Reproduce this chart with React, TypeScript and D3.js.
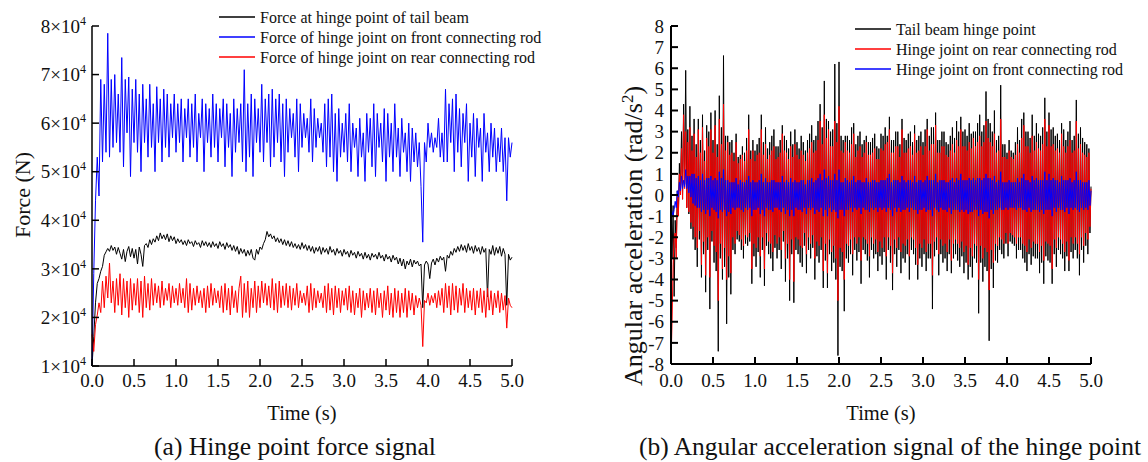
import React from "react";
import * as d3 from "d3";

// ---------- (a) Hinge point force, values in units of 10^4 N, sampled every 1/48 s ----------
const forceStep = 5 / 240;
const tailBeamForce = [
  1.00, 1.60, 2.30, 2.70, 2.80, 2.95, 3.05, 3.28, 3.35, 3.42, 3.36, 3.48, 3.38, 3.45, 3.30, 3.44, 3.32, 3.20, 3.40, 3.15,
  3.36, 3.46, 3.25, 3.42, 3.22, 3.40, 3.10, 3.45, 3.30, 3.05, 3.48, 3.52, 3.44, 3.60, 3.50, 3.62, 3.55, 3.68, 3.58, 3.74,
  3.62, 3.70, 3.60, 3.72, 3.56, 3.68, 3.58, 3.66, 3.52, 3.62, 3.54, 3.60, 3.50, 3.58, 3.48, 3.60, 3.52, 3.56, 3.46, 3.58,
  3.50, 3.54, 3.44, 3.58, 3.48, 3.56, 3.46, 3.54, 3.44, 3.56, 3.46, 3.52, 3.42, 3.56, 3.46, 3.52, 3.40, 3.54, 3.44, 3.50,
  3.38, 3.48, 3.36, 3.46, 3.30, 3.42, 3.32, 3.40, 3.26, 3.38, 3.28, 3.40, 3.22, 3.18, 3.40, 3.30, 3.45, 3.40, 3.52, 3.60,
  3.77, 3.66, 3.72, 3.62, 3.68, 3.56, 3.64, 3.54, 3.62, 3.50, 3.60, 3.48, 3.58, 3.46, 3.56, 3.44, 3.52, 3.42, 3.50, 3.40,
  3.54, 3.42, 3.50, 3.38, 3.48, 3.36, 3.46, 3.32, 3.44, 3.36, 3.46, 3.30, 3.44, 3.34, 3.42, 3.30, 3.46, 3.34, 3.40, 3.28,
  3.42, 3.32, 3.38, 3.26, 3.40, 3.30, 3.36, 3.24, 3.38, 3.28, 3.34, 3.22, 3.36, 3.26, 3.32, 3.20, 3.34, 3.22, 3.30, 3.18,
  3.32, 3.24, 3.30, 3.20, 3.34, 3.22, 3.28, 3.16, 3.30, 3.20, 3.26, 3.14, 3.28, 3.18, 3.24, 3.10, 3.22, 3.06, 3.20, 3.00,
  3.16, 3.08, 3.20, 3.04, 3.18, 3.10, 3.16, 3.06, 3.10, 2.20, 3.08, 3.16, 3.10, 2.80, 3.12, 3.20, 3.08, 3.22, 3.14, 3.26,
  3.18, 3.24, 2.95, 3.28, 3.22, 3.36, 3.28, 3.42, 3.34, 3.46, 3.36, 3.50, 3.38, 3.48, 3.34, 3.52, 3.38, 3.46, 3.32, 3.48,
  3.36, 3.44, 3.30, 3.46, 3.34, 3.42, 2.42, 3.40, 3.30, 3.48, 3.28, 3.44, 3.32, 3.46, 3.26, 3.42, 3.30, 2.25, 3.30, 3.18,
  3.24,
];
const frontRodForce = [
  1.00, 2.90, 4.40, 5.30, 4.50, 6.90, 5.20, 6.80, 5.40, 7.85, 5.30, 6.90, 5.50, 7.00, 5.60, 6.60, 5.40, 7.35, 5.10, 6.90,
  5.80, 6.95, 4.90, 6.70, 5.60, 6.90, 5.40, 6.60, 5.00, 6.80, 5.60, 6.50, 5.30, 6.80, 5.50, 6.40, 5.00, 6.75, 5.60, 6.50,
  5.20, 6.70, 5.50, 6.60, 5.30, 6.40, 5.70, 6.60, 5.40, 6.40, 5.60, 6.50, 5.20, 6.30, 5.70, 6.50, 5.30, 6.40, 5.50, 6.60,
  5.20, 6.20, 5.70, 6.50, 5.00, 6.40, 5.60, 6.30, 5.30, 6.60, 5.50, 6.40, 5.20, 6.30, 5.70, 6.50, 5.10, 6.40, 5.50, 6.20,
  4.90, 6.50, 5.40, 6.30, 5.60, 6.40, 5.20, 7.10, 5.00, 6.40, 5.30, 6.60, 4.90, 6.50, 5.60, 6.30, 5.40, 6.80, 5.20, 6.50,
  5.60, 6.60, 5.10, 6.70, 5.30, 6.50, 5.60, 6.60, 5.20, 6.40, 4.90, 6.50, 5.40, 6.30, 5.70, 6.20, 5.30, 6.50, 5.00, 6.40,
  5.50, 6.20, 5.70, 6.10, 5.40, 6.50, 5.20, 6.30, 5.50, 6.10, 5.70, 6.00, 5.40, 6.40, 5.10, 6.50, 5.30, 6.60, 5.00, 6.20,
  4.80, 6.30, 5.30, 6.00, 5.40, 6.20, 5.20, 6.40, 5.00, 6.00, 5.50, 5.90, 4.90, 6.10, 5.30, 5.80, 4.80, 6.20, 5.40, 6.10,
  5.10, 6.40, 4.90, 6.20, 5.50, 6.00, 5.20, 6.30, 4.80, 6.20, 5.30, 6.00, 5.00, 6.40, 5.30, 5.90, 4.90, 6.10, 5.40, 5.80,
  5.00, 6.00, 4.80, 5.90, 5.20, 5.80, 5.10, 5.60, 4.70, 3.55, 5.60, 5.20, 6.00, 5.50, 5.80, 5.40, 5.70, 5.50, 6.10, 5.30,
  5.80, 5.20, 6.70, 5.20, 6.40, 5.60, 6.50, 5.00, 6.60, 5.40, 6.30, 5.10, 6.20, 5.60, 6.40, 4.80, 6.00, 5.30, 6.20, 4.90,
  6.10, 5.50, 5.90, 4.80, 6.20, 5.40, 5.80, 5.00, 6.00, 5.30, 5.90, 5.00, 5.70, 5.20, 5.90, 5.00, 5.70, 4.40, 5.70, 5.30,
  5.60,
];
const rearRodForce = [
  1.65, 1.30, 1.85, 2.05, 2.30, 2.10, 2.75, 2.20, 2.85, 2.40, 3.12, 2.30, 2.75, 2.10, 2.80, 2.25, 2.90, 2.05, 2.80, 2.20,
  2.75, 2.00, 2.80, 2.15, 2.70, 2.25, 2.80, 2.10, 2.75, 2.00, 2.85, 2.20, 2.70, 2.15, 2.80, 2.25, 2.70, 2.30, 2.65, 2.20,
  2.75, 2.25, 2.60, 2.35, 2.70, 2.20, 2.65, 2.30, 2.60, 2.25, 2.70, 2.30, 2.60, 2.20, 2.80, 2.10, 2.70, 2.15, 2.60, 2.25,
  2.65, 2.30, 2.55, 2.20, 2.60, 2.10, 2.65, 2.20, 2.70, 2.25, 2.60, 2.30, 2.55, 2.20, 2.65, 2.10, 2.70, 2.15, 2.60, 2.05,
  2.65, 2.20, 2.55, 2.10, 2.60, 2.85, 2.00, 2.70, 2.10, 2.75, 2.00, 2.60, 2.20, 2.75, 2.10, 2.65, 2.20, 2.75, 2.30, 2.70,
  2.25, 2.65, 2.20, 2.80, 2.15, 2.70, 2.10, 2.75, 2.20, 2.65, 2.25, 2.70, 2.20, 2.65, 2.15, 2.60, 2.25, 2.70, 2.20, 2.55,
  2.30, 2.50, 2.25, 2.65, 2.10, 2.70, 2.15, 2.60, 2.20, 2.55, 2.30, 2.50, 2.20, 2.65, 2.10, 2.70, 2.15, 2.60, 2.05, 2.65,
  2.20, 2.60, 2.10, 2.55, 2.25, 2.60, 2.15, 2.65, 2.10, 2.55, 2.05, 2.50, 2.20, 2.60, 2.00, 2.55, 2.15, 2.50, 2.20, 2.60,
  2.10, 2.55, 2.05, 2.60, 2.20, 2.50, 2.00, 2.55, 2.15, 2.65, 2.05, 2.50, 2.00, 2.60, 2.10, 2.55, 2.00, 2.50, 2.10, 2.60,
  2.00, 2.55, 2.15, 2.50, 2.05, 2.45, 2.20, 2.40, 2.25, 1.40, 2.35, 2.30, 2.50, 2.25, 2.45, 2.30, 2.50, 2.20, 2.55, 2.25,
  2.60, 2.10, 2.70, 2.20, 2.65, 2.05, 2.70, 2.15, 2.65, 2.10, 2.60, 2.25, 2.70, 2.10, 2.60, 2.20, 2.55, 2.15, 2.60, 2.05,
  2.55, 2.20, 2.60, 2.10, 2.55, 2.00, 2.60, 2.15, 2.55, 2.05, 2.50, 2.20, 2.55, 2.10, 2.50, 2.15, 2.45, 1.78, 2.40, 2.25,
  2.20,
];
const forceTicks = [1, 2, 3, 4, 5, 6, 7, 8];

// ---------- (b) Angular acceleration (rad/s^2), sampled every 0.0125 s ----------
const accStep = 0.0125;
const tailBeamAcc = [
  0.0, -3.0, -0.5, -4.8, -1.2, -2.5, 0.2, -1.0, 1.5, 0.2, 3.0, -0.2, 4.3, 0.5, 5.9, -0.6, 3.1, -0.9, 4.2, -1.6,
  2.8, -2.1, 3.6, -2.6, 2.4, -3.4, 3.6, -2.1, 2.6, -3.9, 3.8, -2.8, 2.1, -4.6, 3.3, -2.6, 3.0, -5.4, 3.9, -2.2,
  2.6, -3.2, 4.0, -3.6, 2.4, -7.4, 4.7, -3.0, 3.2, -4.0, 6.6, -3.4, 2.8, -6.1, 2.8, -3.9, 2.5, -4.7, 2.6, -2.6,
  2.0, -2.8, 2.9, -2.1, 1.8, -2.2, 1.9, -2.6, 2.3, -3.0, 2.0, -2.3, 2.7, -2.4, 3.8, -2.2, 2.1, -4.2, 2.6, -2.9,
  2.1, -3.4, 2.4, -2.7, 2.7, -3.9, 3.8, -2.6, 2.5, -4.3, 3.2, -2.4, 2.2, -2.8, 2.5, -3.0, 2.8, -3.6, 3.1, -2.5,
  2.3, -3.0, 2.3, -2.6, 2.6, -3.5, 3.3, -2.2, 2.8, -4.1, 2.6, -3.0, 2.2, -5.0, 3.0, -2.8, 2.4, -5.1, 3.1, -2.6,
  2.5, -2.8, 2.2, -3.2, 2.8, -3.4, 2.5, -2.4, 2.1, -3.7, 2.6, -2.6, 2.9, -3.0, 3.3, -2.5, 2.6, -4.0, 2.8, -2.9,
  3.5, -3.2, 4.3, -2.6, 3.2, -4.4, 5.4, -3.1, 3.6, -4.4, 3.5, -2.8, 3.0, -3.6, 3.1, -3.2, 6.2, -4.0, 3.4, -7.6,
  6.3, -3.4, 2.8, -3.6, 2.6, -5.5, 2.8, -3.0, 2.8, -3.2, 2.6, -2.8, 3.2, -3.8, 3.4, -2.6, 2.4, -3.1, 2.8, -2.7,
  3.0, -4.2, 2.4, -2.6, 2.6, -2.8, 2.8, -3.1, 2.5, -3.9, 2.5, -2.6, 2.7, -3.0, 2.9, -2.8, 2.3, -3.6, 2.2, -2.9,
  2.9, -3.3, 2.8, -2.7, 3.2, -4.0, 2.8, -2.6, 3.7, -3.2, 2.6, -4.5, 2.6, -2.8, 3.0, -3.4, 3.0, -2.6, 2.4, -3.7,
  3.6, -3.0, 2.7, -3.2, 2.6, -2.8, 2.9, -4.0, 3.0, -2.6, 2.5, -2.8, 3.3, -3.3, 2.6, -4.0, 2.8, -3.0, 3.0, -3.4,
  2.5, -2.8, 3.1, -3.6, 3.6, -3.0, 2.8, -3.0, 3.2, -5.4, 3.2, -2.9, 3.9, -2.6, 2.6, -3.8, 2.6, -2.8, 3.0, -3.2,
  3.0, -3.0, 2.5, -3.6, 2.4, -2.8, 2.8, -3.7, 3.2, -3.0, 2.7, -2.8, 3.5, -3.1, 3.0, -3.4, 3.7, -2.9, 3.0, -3.7,
  3.1, -3.2, 2.8, -4.0, 3.4, -3.4, 2.9, -3.9, 3.0, -3.0, 3.0, -3.2, 3.4, -5.6, 3.8, -3.2, 3.0, -4.1, 3.3, -3.4,
  4.9, -3.6, 3.6, -6.9, 3.4, -3.5, 3.0, -4.4, 4.0, -3.1, 2.6, -3.2, 2.8, -2.6, 5.2, -2.8, 2.4, -3.0, 2.4, -2.3,
  2.0, -2.9, 2.6, -2.2, 2.1, -2.3, 2.0, -2.4, 2.5, -3.0, 3.2, -2.6, 2.6, -2.6, 3.6, -3.0, 3.9, -3.2, 3.0, -3.6,
  3.0, -2.8, 2.7, -3.3, 3.8, -2.9, 2.8, -3.0, 3.4, -3.0, 2.9, -3.7, 2.8, -3.2, 3.2, -4.2, 4.6, -2.9, 3.0, -3.1,
  3.9, -3.2, 3.1, -4.2, 3.2, -2.8, 2.8, -3.4, 2.9, -2.6, 2.6, -2.8, 3.4, -3.0, 3.1, -3.6, 2.6, -2.9, 3.0, -3.6,
  3.5, -2.7, 2.6, -3.0, 2.8, -2.6, 4.5, -3.0, 2.9, -3.8, 3.2, -2.6, 2.7, -3.2, 2.5, -2.4, 2.4, -2.8, 2.2, -1.8,
  0.4,
];
const rearRodAcc = [
  -8.0, -6.0, -3.3, -2.0, -1.8, -3.0, 0.0, -1.0, 1.0, 0.0, 2.2, -0.2, 3.8, 0.3, 3.0, -0.6, 2.5, -0.8, 3.2, -1.3,
  2.1, -1.5, 2.9, -2.0, 1.8, -2.5, 3.1, -1.7, 2.0, -3.3, 3.2, -2.2, 1.6, -3.8, 2.7, -2.0, 2.3, -3.9, 3.1, -1.7,
  2.0, -2.4, 3.3, -2.7, 1.8, -5.0, 3.6, -2.3, 2.4, -3.5, 4.3, -2.5, 2.1, -4.0, 2.5, -2.9, 1.9, -3.7, 2.0, -2.0,
  1.6, -2.3, 2.5, -1.7, 1.5, -1.9, 1.7, -2.1, 1.9, -2.4, 1.6, -1.9, 2.1, -2.0, 3.1, -1.8, 1.7, -3.5, 2.1, -2.3,
  1.6, -2.5, 1.9, -2.0, 2.0, -2.9, 3.1, -2.0, 1.9, -3.5, 2.4, -1.8, 1.7, -2.2, 1.9, -2.3, 2.1, -2.7, 2.3, -1.9,
  1.7, -2.3, 1.8, -2.0, 2.0, -2.6, 2.9, -1.7, 2.1, -3.0, 2.0, -2.3, 1.7, -4.0, 2.3, -2.1, 1.8, -4.1, 2.4, -2.0,
  1.9, -2.1, 1.7, -2.4, 2.1, -2.5, 1.9, -1.8, 1.6, -2.8, 2.0, -2.0, 2.2, -2.3, 2.5, -1.9, 2.0, -3.0, 2.1, -2.2,
  2.6, -2.4, 3.5, -2.0, 2.4, -3.6, 3.8, -2.3, 2.7, -3.7, 3.1, -2.1, 2.3, -2.7, 2.3, -2.4, 3.5, -3.0, 2.5, -5.0,
  4.2, -2.5, 2.1, -2.7, 2.0, -4.0, 2.5, -2.3, 2.1, -2.4, 2.0, -2.1, 2.4, -2.8, 2.9, -2.0, 1.8, -2.3, 2.1, -2.0,
  2.3, -3.1, 1.8, -2.0, 2.0, -2.1, 2.5, -2.3, 1.9, -2.9, 1.9, -2.0, 2.0, -2.3, 2.2, -2.1, 1.7, -2.7, 1.7, -2.2,
  2.2, -2.5, 2.1, -2.0, 2.4, -2.9, 2.5, -2.0, 3.1, -2.4, 2.0, -3.7, 2.0, -2.1, 2.3, -2.5, 2.3, -2.0, 1.8, -2.7,
  3.1, -2.3, 2.0, -2.4, 2.0, -2.1, 2.2, -2.9, 2.3, -2.0, 1.9, -2.1, 2.9, -2.5, 2.0, -3.3, 2.1, -2.3, 2.3, -2.5,
  1.9, -2.1, 2.3, -2.7, 3.1, -2.3, 2.1, -2.3, 2.4, -3.8, 2.4, -2.2, 3.3, -2.0, 2.0, -2.8, 2.0, -2.1, 2.3, -2.4,
  2.3, -2.3, 1.9, -2.7, 1.8, -2.1, 2.1, -3.1, 2.4, -2.3, 2.0, -2.1, 2.6, -2.3, 2.3, -2.5, 3.1, -2.2, 2.3, -2.7,
  2.3, -2.4, 2.1, -3.3, 2.5, -2.5, 2.2, -2.9, 2.7, -2.3, 2.3, -2.4, 2.5, -4.0, 2.8, -2.4, 2.3, -3.0, 2.5, -2.5,
  3.5, -2.7, 2.7, -4.5, 2.5, -2.6, 2.3, -3.2, 2.9, -2.3, 2.0, -2.4, 2.1, -2.0, 3.6, -2.1, 1.8, -2.3, 1.8, -1.8,
  1.7, -2.3, 2.1, -1.8, 1.8, -1.9, 1.7, -2.0, 1.9, -2.3, 2.4, -2.0, 2.0, -2.0, 2.7, -2.3, 3.3, -2.4, 2.3, -2.7,
  2.3, -2.1, 2.0, -2.5, 2.8, -2.2, 2.1, -2.3, 2.5, -2.3, 2.2, -2.7, 2.1, -2.4, 2.4, -3.1, 3.6, -2.2, 2.3, -2.3,
  3.3, -2.4, 2.3, -3.5, 2.4, -2.1, 2.1, -2.5, 2.2, -2.0, 2.0, -2.1, 2.9, -2.3, 2.3, -2.7, 2.0, -2.2, 2.3, -3.1,
  2.6, -2.0, 2.0, -2.3, 2.1, -2.0, 3.5, -2.3, 2.2, -2.8, 2.4, -2.0, 2.0, -2.4, 1.9, -1.8, 1.8, -2.1, 2.0, -1.5,
  0.3,
];
const frontRodAcc = [
  -0.6, -0.8, -1.0, -0.7, -0.3, -0.6, 0.2, -0.1, 0.6, 0.2, 0.9, 0.3, 0.7, 0.4, 1.2, 0.3, 0.9, 0.1, 0.9, -0.1,
  1.0, -0.4, 1.0, -0.5, 0.8, -0.6, 0.9, -0.6, 0.7, -0.8, 1.0, -0.7, 0.7, -0.9, 0.8, -0.7, 0.8, -1.0, 0.9, -0.6,
  0.7, -0.7, 0.8, -0.8, 0.7, -1.1, 1.1, -0.7, 0.8, -0.8, 1.2, -0.7, 0.7, -1.0, 0.7, -0.8, 0.6, -0.9, 0.6, -0.6,
  0.6, -0.7, 0.8, -0.6, 0.5, -0.6, 0.7, -0.7, 0.6, -0.8, 0.6, -0.6, 0.7, -0.7, 0.9, -0.6, 0.6, -1.0, 0.7, -0.7,
  0.6, -0.7, 0.6, -0.6, 0.7, -0.9, 1.0, -0.7, 0.6, -1.0, 0.8, -0.6, 0.6, -0.7, 0.6, -0.7, 0.7, -0.8, 0.7, -0.6,
  0.6, -0.6, 0.6, -0.7, 0.6, -0.8, 0.9, -0.6, 0.6, -0.9, 0.7, -0.7, 0.6, -1.0, 0.8, -0.7, 0.6, -1.0, 0.7, -0.6,
  0.6, -0.7, 0.6, -0.7, 0.7, -0.8, 0.7, -0.6, 0.5, -0.9, 0.7, -0.6, 0.7, -0.7, 0.8, -0.6, 0.6, -0.9, 0.7, -0.7,
  0.8, -0.8, 1.0, -0.6, 0.7, -1.0, 1.2, -0.7, 0.8, -1.0, 0.9, -0.6, 0.7, -0.8, 0.7, -0.7, 1.0, -0.8, 0.7, -1.1,
  1.2, -0.7, 0.6, -0.7, 0.6, -1.0, 0.8, -0.7, 0.7, -0.7, 0.6, -0.6, 0.7, -0.8, 0.9, -0.6, 0.6, -0.7, 0.7, -0.6,
  0.7, -0.9, 0.6, -0.6, 0.6, -0.7, 0.8, -0.7, 0.6, -0.8, 0.6, -0.6, 0.7, -0.7, 0.7, -0.6, 0.6, -0.8, 0.6, -0.6,
  0.7, -0.7, 0.7, -0.6, 0.7, -0.8, 0.8, -0.6, 1.0, -0.7, 0.6, -1.0, 0.7, -0.6, 0.7, -0.8, 0.7, -0.6, 0.6, -0.8,
  0.9, -0.7, 0.7, -0.7, 0.6, -0.6, 0.7, -0.8, 0.7, -0.6, 0.6, -0.7, 0.9, -0.7, 0.6, -0.9, 0.7, -0.7, 0.7, -0.7,
  0.6, -0.6, 0.7, -0.8, 0.9, -0.7, 0.7, -0.7, 0.7, -1.0, 0.7, -0.6, 1.0, -0.7, 0.6, -0.8, 0.7, -0.6, 0.7, -0.7,
  0.7, -0.7, 0.6, -0.8, 0.6, -0.6, 0.7, -0.9, 0.8, -0.7, 0.6, -0.7, 0.8, -0.7, 0.7, -0.8, 1.0, -0.7, 0.7, -0.8,
  0.7, -0.7, 0.7, -0.9, 0.8, -0.8, 0.7, -0.8, 0.8, -0.7, 0.7, -0.7, 0.8, -1.0, 0.8, -0.7, 0.7, -0.9, 0.8, -0.8,
  1.0, -0.8, 0.8, -1.1, 0.8, -0.7, 0.7, -0.9, 0.9, -0.7, 0.6, -0.7, 0.7, -0.6, 1.1, -0.7, 0.6, -0.7, 0.6, -0.6,
  0.6, -0.7, 0.7, -0.6, 0.6, -0.6, 0.6, -0.6, 0.6, -0.7, 0.8, -0.6, 0.6, -0.6, 0.8, -0.7, 1.0, -0.7, 0.7, -0.8,
  0.7, -0.6, 0.6, -0.8, 0.9, -0.7, 0.7, -0.7, 0.8, -0.7, 0.7, -0.8, 0.7, -0.7, 0.7, -0.9, 1.1, -0.7, 0.7, -0.7,
  1.0, -0.7, 0.7, -1.0, 0.8, -0.6, 0.7, -0.8, 0.7, -0.6, 0.6, -0.7, 0.9, -0.7, 0.7, -0.8, 0.7, -0.6, 0.7, -0.9,
  0.8, -0.6, 0.6, -0.7, 0.7, -0.6, 1.1, -0.7, 0.7, -0.8, 0.7, -0.6, 0.6, -0.7, 0.6, -0.6, 0.6, -0.7, 0.7, -0.5,
  0.2,
];
const accTicks = [-8, -7, -6, -5, -4, -3, -2, -1, 0, 1, 2, 3, 4, 5, 6, 7, 8];
const timeTicks = [0, 0.5, 1, 1.5, 2, 2.5, 3, 3.5, 4, 4.5, 5];

const FONT = "'Liberation Serif', 'Times New Roman', serif";

type Series = { name: string; color: string; values: number[]; step: number };

function Panel(props: {
  left: number; right: number; top: number; bottom: number;
  yDomain: [number, number]; yTicks: number[]; yFormat: (v: number) => React.ReactNode;
  series: Series[]; legendX: number; legendY: number;
  yLabel: React.ReactNode; yLabelX: number; yLabelY: number; yLabelSize: number;
  caption: string; captionX: number; axisWidth: number; labelX: number;
}) {
  const x = d3.scaleLinear().domain([0, 5]).range([props.left, props.right]);
  const y = d3.scaleLinear().domain(props.yDomain).range([props.bottom, props.top]);
  const tick = 7;
  const midX = (props.left + props.right) / 2;
  return (
    <g fontFamily={FONT} fill="#111">
      {props.series.map((s) => {
        const line = d3.line<number>().x((_, i) => x(i * s.step)).y((v) => y(v));
        return <path key={s.name} d={line(s.values) || ""} fill="none" stroke={s.color} strokeWidth={1} strokeLinejoin="round" />;
      })}
      <line x1={props.left} x2={props.left} y1={props.top} y2={props.bottom} stroke="#000" strokeWidth={props.axisWidth} />
      <line x1={props.left} x2={props.right} y1={props.bottom} y2={props.bottom} stroke="#000" strokeWidth={props.axisWidth} />
      {props.yTicks.map((t) => (
        <g key={"y" + t}>
          <line x1={props.left} x2={props.left + tick} y1={y(t)} y2={y(t)} stroke="#000" strokeWidth={props.axisWidth} />
          <text x={props.labelX} y={y(t)} dy="0.35em" textAnchor="end" fontSize={19}>{props.yFormat(t)}</text>
        </g>
      ))}
      {timeTicks.map((t) => (
        <g key={"x" + t}>
          <line x1={x(t)} x2={x(t)} y1={props.bottom} y2={props.bottom - tick} stroke="#000" strokeWidth={props.axisWidth} />
          <text x={x(t)} y={387} textAnchor="middle" fontSize={19}>{t.toFixed(1)}</text>
        </g>
      ))}
      <text x={midX} y={420} textAnchor="middle" fontSize={20.5}>Time (s)</text>
      <text transform={`translate(${props.yLabelX},${props.yLabelY}) rotate(-90)`} textAnchor="middle" fontSize={props.yLabelSize}>{props.yLabel}</text>
      <text x={props.captionX} y={455} textAnchor="middle" fontSize={25.5}>{props.caption}</text>
      {props.series.map((s, i) => (
        <g key={"lg" + s.name}>
          <line x1={props.legendX} x2={props.legendX + 36} y1={props.legendY + i * 20} y2={props.legendY + i * 20} stroke={s.color} strokeWidth={1.5} />
          <text x={props.legendX + 41} y={props.legendY + i * 20} dy="0.35em" fontSize={16}>{s.name}</text>
        </g>
      ))}
    </g>
  );
}

export default function App() {
  const forceSeries: Series[] = [
    { name: "Force at hinge point of tail beam", color: "#000000", values: tailBeamForce, step: forceStep },
    { name: "Force of hinge joint on front connecting rod", color: "#0000ff", values: frontRodForce, step: forceStep },
    { name: "Force of hinge joint on rear connecting rod", color: "#ff0000", values: rearRodForce, step: forceStep },
  ];
  const accSeries: Series[] = [
    { name: "Tail beam hinge point", color: "#000000", values: tailBeamAcc, step: accStep },
    { name: "Hinge joint on rear connecting rod", color: "#ff0000", values: rearRodAcc, step: accStep },
    { name: "Hinge joint on front connecting rod", color: "#0000ff", values: frontRodAcc, step: accStep },
  ];
  return (
    <svg width={1148} height={462} style={{ position: "absolute", left: 0, top: 0, background: "#fff" }}>
      <rect x={0} y={0} width={1148} height={462} fill="#fff" />
      <Panel
        left={92} right={512} top={26} bottom={366}
        yDomain={[1, 8]} yTicks={forceTicks}
        yFormat={(v) => (<>{v}×10<tspan dy={-8} fontSize={12}>4</tspan></>)}
        series={forceSeries} legendX={219} legendY={17}
        yLabel="Force (N)" yLabelX={30} yLabelY={195} yLabelSize={22}
        caption="(a) Hinge point force signal" captionX={295} axisWidth={1.5} labelX={86}
      />
      <Panel
        left={671} right={1091} top={26} bottom={364}
        yDomain={[-8, 8]} yTicks={accTicks}
        yFormat={(v) => String(v)}
        series={accSeries} legendX={855} legendY={29}
        yLabel={<>Angular acceleration (rad/s<tspan dy={-9} fontSize={17}>2</tspan><tspan dy={9}>)</tspan></>}
        yLabelX={642} yLabelY={236} yLabelSize={26}
        caption="(b) Angular acceleration signal of the hinge point" captionX={890} axisWidth={2} labelX={664}
      />
    </svg>
  );
}
